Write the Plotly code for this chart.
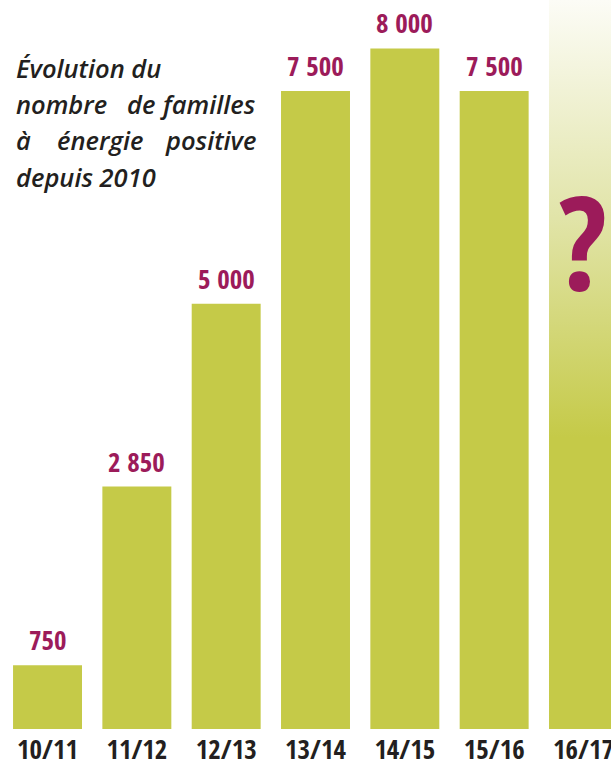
import plotly.graph_objects as go

# ---- data ----
categories = ["10/11", "11/12", "12/13", "13/14", "14/15", "15/16", "16/17"]
values = [750, 2850, 5000, 7500, 8000, 7500]
value_labels = ["750", "2 850", "5 000", "7 500", "8 000", "7 500"]
unknown_label = "?"
title_lines = [
    ["Évolution du"],
    ["nombre", "de", "familles"],
    ["à", "énergie", "positive"],
    ["depuis 2010"],
]

# ---- style ----
GREEN = "#C5CA48"
MAROON = "#9C1B5A"
INK = "#231F20"
W, H = 611, 763
MT, MB = 0, 34
PLOT_H = H - MT - MB
BAR_W = 0.772
Y_MAX = 8570
X_RANGE = [-0.532, 6.308]
COND = "Open Sans Condensed, Roboto Condensed, Liberation Sans, sans-serif"
TITLE_FONT = "Open Sans, Noto Sans, sans-serif"


def paper_y(px):
    return (PLOT_H + MT - px) / PLOT_H


def paper_x(px):
    return px / W


fig = go.Figure()

known = list(range(len(values)))
fig.add_trace(go.Bar(
    x=known, y=values, width=BAR_W,
    marker=dict(color=GREEN, line=dict(width=0)),
    hoverinfo="skip", showlegend=False,
))

# gradient bar for the unknown year
i = len(values)
fig.add_trace(go.Scatter(
    x=[i - BAR_W / 2, i + BAR_W / 2, i + BAR_W / 2, i - BAR_W / 2, i - BAR_W / 2],
    y=[0, 0, Y_MAX, Y_MAX, 0],
    mode="lines", line=dict(width=0, color="rgba(0,0,0,0)"),
    fill="toself",
    fillgradient=dict(type="vertical",
                      colorscale=[[0, GREEN], [0.4, GREEN], [0.7, "#E1E4A8"], [1, "#FCFCF6"]]),
    hoverinfo="skip", showlegend=False,
))

annotations = []
for xi, v, t in zip(known, values, value_labels):
    annotations.append(dict(
        x=xi, y=v, xref="x", yref="y", text=t, showarrow=False,
        yanchor="bottom", yshift=5,
        font=dict(family=COND, size=27, color=MAROON, weight="bold"),
    ))

annotations.append(dict(
    x=i, y=paper_y(239), xref="x", yref="paper", text=unknown_label, showarrow=False,
    yanchor="middle", xanchor="center",
    font=dict(family=COND, size=130, color=MAROON, weight="bold"),
))

# title block (justified look)
tfont = dict(family=TITLE_FONT, size=25.5, color=INK, style="italic", weight=600)
line_y = [68, 104, 140, 177]
LEFT, RIGHT = 14, 258
mids = {"de": 141, "énergie": 100}
for words, yy in zip(title_lines, line_y):
    common = dict(y=paper_y(yy), xref="paper", yref="paper", showarrow=False,
                  yanchor="middle", font=tfont)
    annotations.append(dict(x=paper_x(LEFT), text=words[0], xanchor="left", **common))
    if len(words) == 3:
        annotations.append(dict(x=paper_x(mids[words[1]]), text=words[1], xanchor="center", **common))
        annotations.append(dict(x=paper_x(RIGHT), text=words[2], xanchor="right", **common))

fig.update_layout(
    width=W, height=H,
    margin=dict(l=0, r=0, t=MT, b=MB, pad=0, autoexpand=False),
    paper_bgcolor="white", plot_bgcolor="white",
    showlegend=False,
    annotations=annotations,
    xaxis=dict(
        range=X_RANGE, tickmode="array", tickvals=list(range(len(categories))),
        ticktext=categories, showgrid=False, zeroline=False, showline=False, ticks="",
        ticklabelstandoff=2, ticklabeloverflow="allow", automargin=False,
        tickfont=dict(family=COND, size=27, color=INK, weight="bold"),
        fixedrange=True,
    ),
    yaxis=dict(range=[0, Y_MAX], visible=False, fixedrange=True, automargin=False),
)

fig.write_html("out.html", config={"displayModeBar": False},
               post_script="document.body.style.margin='0';document.body.style.overflow='hidden';")
